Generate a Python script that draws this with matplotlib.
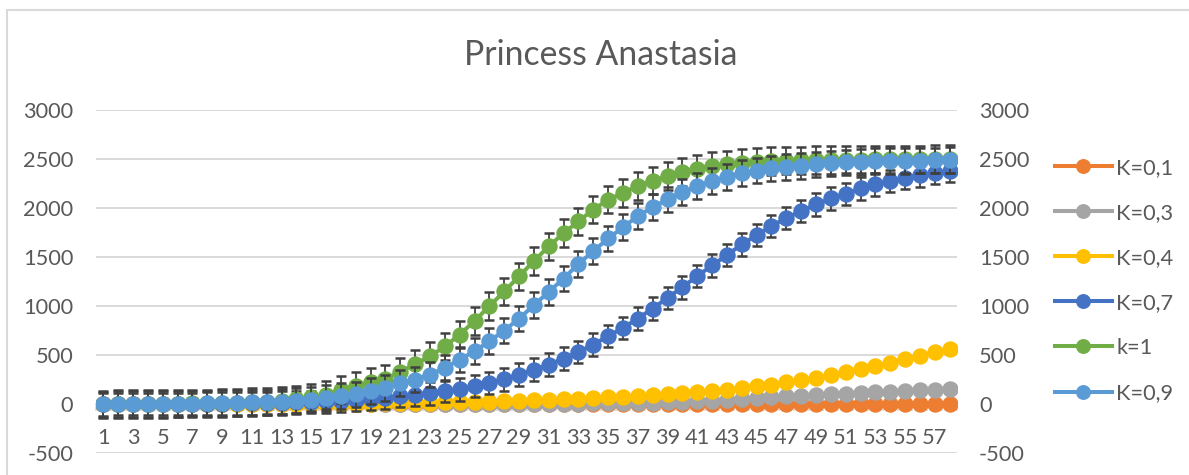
import numpy as np
import matplotlib
matplotlib.use("Agg")
import matplotlib.pyplot as plt
from matplotlib.patches import Rectangle

plt.rcParams['font.family'] = ['Lato', 'DejaVu Sans']
plt.rcParams['axes.unicode_minus'] = False

title = "Princess Anastasia"
days = list(range(1, 59))
xlabels = [str(d) if d % 2 == 1 else "" for d in days]

k01 = [0]*20 + [1]*10 + [1, 1, 2, 2, 2, 2, 2, 2, 2, 3] + [3, 3, 3, 3, 3, 3, 4, 4, 4, 4, 4, 4, 4, 5, 5, 5, 5, 5]
k03 = [0, 0, 0, 0, 0, 0, 0, 0, 0, 0, 0, 0, 0, 0, 0, 1, 1, 1, 1, 1,
       2, 2, 2, 3, 3, 3, 4, 4, 4, 5, 6, 6, 7, 8, 10, 11, 13, 15, 20, 25,
       30, 36, 44, 52, 62, 72, 82, 88, 96, 102, 109, 116, 123, 130, 136, 143, 150, 160]
k04 = [0, 0, 0, 0, 0, 0, 1, 1, 1, 1, 1, 2, 2, 2, 3, 3, 4, 5, 7, 10,
       13, 15, 17, 20, 22, 25, 28, 31, 35, 40, 44, 50, 56, 62, 70, 77, 85, 93, 103, 113,
       124, 136, 150, 165, 182, 200, 222, 245, 270, 298, 326, 356, 388, 422, 457, 494, 530, 566]
k07 = [0, 1, 1, 2, 2, 3, 4, 5, 6, 8, 10, 13, 16, 20, 25, 30, 37, 45, 55, 67,
       82, 99, 112, 133, 152, 184, 218, 254, 303, 352, 405, 466, 534, 609, 694, 779, 874, 976, 1085, 1193,
       1306, 1415, 1520, 1629, 1724, 1816, 1900, 1969, 2037, 2098, 2145, 2200, 2241, 2275, 2309, 2333, 2359, 2377]
k1 = [0, 1, 2, 3, 4, 6, 8, 10, 13, 17, 22, 28, 36, 50, 70, 95, 150, 190, 225, 260,
      330, 410, 490, 590, 710, 850, 1000, 1150, 1305, 1460, 1610, 1745, 1865, 1985, 2085, 2155, 2225, 2280, 2325, 2370,
      2400, 2428, 2445, 2460, 2470, 2478, 2483, 2487, 2490, 2492, 2494, 2495, 2496, 2497, 2498, 2498, 2499, 2499]
k09 = [0, 1, 2, 3, 4, 5, 7, 9, 11, 14, 18, 20, 24, 37, 48, 65, 82, 100, 133, 166,
       218, 252, 303, 371, 456, 541, 643, 751, 874, 1010, 1146, 1282, 1431, 1561, 1690, 1805, 1918, 2009, 2088, 2162,
       2224, 2275, 2315, 2359, 2383, 2404, 2418, 2428, 2445, 2455, 2465, 2472, 2479, 2480, 2481, 2483, 2486, 2492]

err_k07 = 115
err_k1 = 140
err_k09 = 130

series = [
    ("K=0,1", k01, "#ED7D31", None),
    ("K=0,3", k03, "#A5A5A5", None),
    ("K=0,4", k04, "#FFC000", None),
    ("K=0,7", k07, "#4472C4", err_k07),
    ("k=1", k1, "#70AD47", err_k1),
    ("K=0,9", k09, "#5B9BD5", err_k09),
]

W, H = 1189, 475
fig = plt.figure(figsize=(W/100, H/100), dpi=100)
ax = fig.add_axes([96/W, 1-453.3/H, (957-96)/W, (453.3-110)/H])

txt = "#595959"
grid = "#D9D9D9"
fs = 15.7

handles = []
for i, (name, vals, col, err) in enumerate(series):
    z = 3 + i
    line, = ax.plot(days, vals, color=col, lw=2.9, marker='o', ms=10.8,
                    mec=col, mfc=col, zorder=z, label=name)
    if err is not None:
        ax.errorbar(days, vals, yerr=np.full(len(vals), err), fmt='none',
                    ecolor="#404040", elinewidth=1.3, capsize=3.6, capthick=1.8,
                    zorder=z - 0.5)
    handles.append(line)

ax.set_xlim(0.5, 58.5)
ax.set_ylim(-500, 3000)
ax.set_yticks(range(-500, 3001, 500))
ax.yaxis.grid(True, color=grid, lw=1.4, zorder=0)
ax.set_axisbelow(True)
ax.tick_params(axis='y', length=0, labelsize=fs, labelcolor=txt, pad=16.5)

ax.set_xticks(days)
ax.set_xticklabels(xlabels)
ax.set_xticks([d + 0.5 for d in days[:-1]] + [0.5, 58.5], minor=True)
ax.tick_params(axis='x', which='major', length=0, labelsize=fs, labelcolor=txt, pad=17)
ax.tick_params(axis='x', which='minor', length=5, color=grid, width=1.2)

for s in ['top', 'left', 'right']:
    ax.spines[s].set_visible(False)
ax.spines['bottom'].set_position(('data', 0))
ax.spines['bottom'].set_color(grid)
ax.spines['bottom'].set_linewidth(1.4)
ax.spines['bottom'].set_zorder(1)

ax2 = ax.twinx()
ax2.set_ylim(-500, 3000)
ax2.set_yticks(range(-500, 3001, 500))
ax2.tick_params(axis='y', length=0, labelsize=fs, labelcolor=txt, pad=15.8)
for s in ['top', 'left', 'right', 'bottom']:
    ax2.spines[s].set_visible(False)

fig.text(601/W, 1-55/H, title, ha='center', va='center', fontsize=24.3, color=txt)

fig.legend(handles=handles, loc='center left', bbox_to_anchor=(1055/W, 1-280.5/H),
           bbox_transform=fig.transFigure, frameon=False, fontsize=fs,
           labelcolor=txt, handlelength=2.6, handletextpad=0.2, labelspacing=1.15,
           borderpad=0, borderaxespad=0, markerscale=0.9)

fig.patches.append(Rectangle((7/W, -0.1), 2, 1 - 10/H + 0.1, transform=fig.transFigure,
                             fill=False, ec="#D9D9D9", lw=1.5))

fig.savefig("out.png", dpi=100, facecolor='white')
